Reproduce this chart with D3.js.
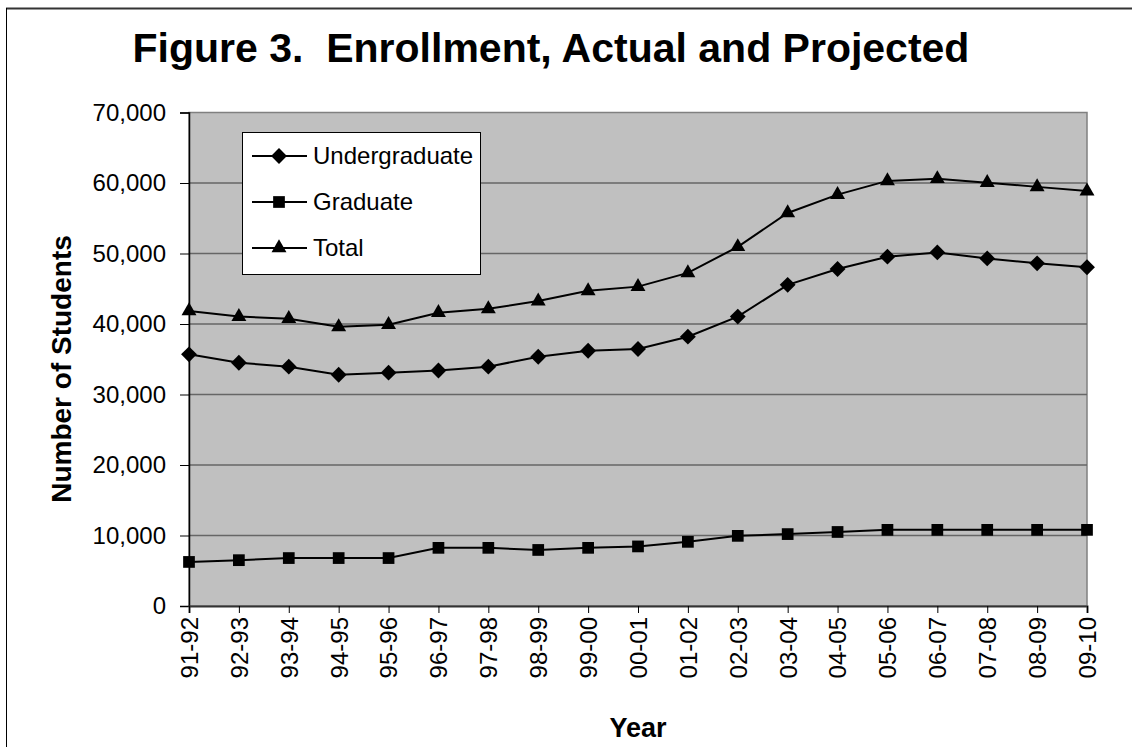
<!DOCTYPE html>
<html>
<head>
<meta charset="utf-8">
<script src="https://cdn.jsdelivr.net/npm/d3@7"></script>
<style>
  html, body { margin: 0; padding: 0; background: #fff; }
  svg { display: block; font-family: "Liberation Sans", Arial, sans-serif; }
</style>
</head>
<body>
<svg id="chart" width="1132" height="747"></svg>
<script>
// Academic years on the category axis
const years = ["91-92","92-93","93-94","94-95","95-96","96-97","97-98","98-99","99-00",
               "00-01","01-02","02-03","03-04","04-05","05-06","06-07","07-08","08-09","09-10"];

// Enrollment by student level
const undergraduate = [35700,34500,33950,32800,33100,33400,33950,35350,36200,
                       36450,38200,41050,45550,47800,49550,50150,49300,48600,48050];
const graduate      = [6250,6500,6800,6800,6800,8250,8250,7950,8250,
                       8450,9100,9950,10200,10500,10800,10800,10800,10800,10800];
const total         = [41850,41050,40750,39600,39900,41600,42150,43250,44700,
                       45300,47250,50950,55750,58350,60300,60600,60050,59450,58850];

const yTicks = [0,10000,20000,30000,40000,50000,60000,70000];

const seriesNames = ["Undergraduate","Graduate","Total"];
const seriesData = [undergraduate, graduate, total];
const seriesSymbols = [d3.symbolDiamond2, d3.symbolSquare2, d3.symbolTriangle2];
const symbolSizes = [160, 175, 160];

const svg = d3.select("#chart");
const W = 1132, H = 747;
const plot = { left: 189, right: 1087, top: 112.5, bottom: 606 };

// Outer chart frame
svg.append("line").attr("x1", 6).attr("x2", W).attr("y1", 8.5).attr("y2", 8.5)
  .attr("stroke", "#333").attr("stroke-width", 2);
svg.append("line").attr("x1", 6.5).attr("x2", 6.5).attr("y1", 8).attr("y2", H)
  .attr("stroke", "#000").attr("stroke-width", 1);

// Title
svg.append("text")
  .attr("x", 551).attr("y", 62)
  .attr("text-anchor", "middle")
  .attr("font-size", 41).attr("font-weight", "bold")
  .attr("xml:space", "preserve")
  .style("white-space", "pre")
  .text("Figure 3.  Enrollment, Actual and Projected");

const x = d3.scalePoint().domain(years).range([plot.left, plot.right]);
const y = d3.scaleLinear().domain([0, 70000]).range([plot.bottom, plot.top]);

// Plot area background
svg.append("rect")
  .attr("x", plot.left).attr("y", plot.top)
  .attr("width", plot.right - plot.left).attr("height", plot.bottom - plot.top)
  .attr("fill", "#c0c0c0")
  .attr("stroke", "#808080").attr("stroke-width", 1.5);

// Horizontal gridlines
svg.append("g")
  .selectAll("line")
  .data(yTicks.filter(t => t > 0 && t < 70000))
  .join("line")
  .attr("x1", plot.left).attr("x2", plot.right)
  .attr("y1", d => y(d)).attr("y2", d => y(d))
  .attr("stroke", "#666").attr("stroke-width", 1.6);

// Y axis
const yAxis = svg.append("g")
  .attr("transform", `translate(${plot.left},0)`)
  .call(d3.axisLeft(y).tickValues(yTicks).tickFormat(d3.format(",")).tickSize(9).tickPadding(14));
yAxis.select(".domain").attr("stroke", "#000").attr("stroke-width", 1.5);
yAxis.selectAll(".tick line").attr("stroke", "#000").attr("stroke-width", 1);
yAxis.selectAll(".tick text")
  .attr("font-size", 24).attr("font-family", "Liberation Sans, Arial, sans-serif")
  .attr("fill", "#000");

// X axis
const xAxis = svg.append("g")
  .attr("transform", `translate(0,${plot.bottom})`)
  .call(d3.axisBottom(x).tickSize(7).tickPadding(0));
xAxis.select(".domain").attr("stroke", "#333").attr("stroke-width", 2);
xAxis.selectAll(".tick line").attr("stroke", "#000").attr("stroke-width", 1);
xAxis.selectAll(".tick text")
  .attr("font-size", 24).attr("font-family", "Liberation Sans, Arial, sans-serif")
  .attr("fill", "#000")
  .attr("transform", "rotate(-90)")
  .attr("text-anchor", "end")
  .attr("x", -11).attr("y", 0).attr("dy", "0.35em");

// Axis titles
svg.append("text")
  .attr("transform", "translate(71,369) rotate(-90)")
  .attr("text-anchor", "middle")
  .attr("font-size", 28).attr("font-weight", "bold")
  .text("Number of Students");

svg.append("text")
  .attr("x", 638).attr("y", 737)
  .attr("text-anchor", "middle")
  .attr("font-size", 27).attr("font-weight", "bold")
  .text("Year");

// Series lines and markers
const line = d3.line().x((d, i) => x(years[i])).y(d => y(d));
seriesData.forEach((vals, k) => {
  svg.append("path")
    .datum(vals)
    .attr("d", line)
    .attr("fill", "none")
    .attr("stroke", "#000").attr("stroke-width", 2);
  svg.append("g")
    .selectAll("path")
    .data(vals)
    .join("path")
    .attr("transform", (d, i) => `translate(${x(years[i])},${y(d)})`)
    .attr("d", d3.symbol().type(seriesSymbols[k]).size(symbolSizes[k]))
    .attr("fill", "#000");
});

// Legend
const legend = svg.append("g");
legend.append("rect")
  .attr("x", 242.5).attr("y", 132.5).attr("width", 238).attr("height", 142)
  .attr("fill", "#fff").attr("stroke", "#000").attr("stroke-width", 1);
const rowY = [156, 202, 248];
seriesNames.forEach((name, k) => {
  legend.append("line")
    .attr("x1", 252).attr("x2", 307).attr("y1", rowY[k]).attr("y2", rowY[k])
    .attr("stroke", "#000").attr("stroke-width", 2);
  legend.append("path")
    .attr("transform", `translate(279,${rowY[k]})`)
    .attr("d", d3.symbol().type(seriesSymbols[k]).size(symbolSizes[k]))
    .attr("fill", "#000");
  legend.append("text")
    .attr("x", 313).attr("y", rowY[k]).attr("dy", "0.35em")
    .attr("font-size", 24)
    .text(name);
});
</script>
</body>
</html>
